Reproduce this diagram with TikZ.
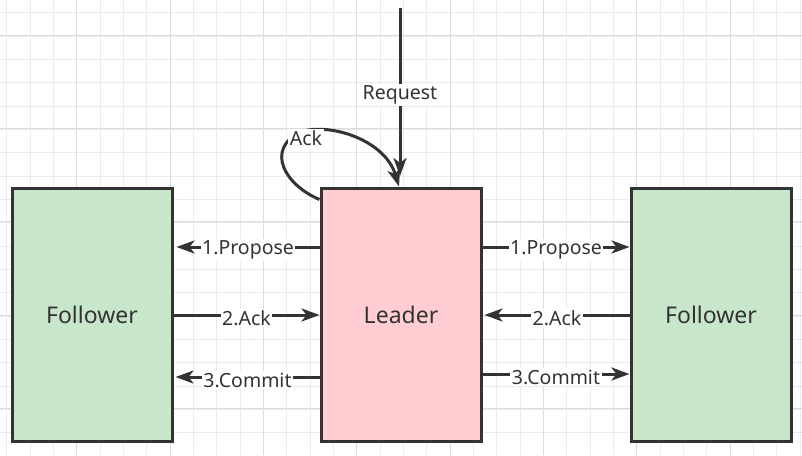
\documentclass[tikz,border=0pt]{standalone}
\usepackage{fontspec}
\setmainfont{Noto Sans}
\usetikzlibrary{arrows.meta}
\definecolor{gmin}{HTML}{EBEBEB}
\definecolor{gmaj}{HTML}{DCDCDC}
\definecolor{fgreen}{HTML}{C8E6C9}
\definecolor{lpink}{HTML}{FFCDD2}
\definecolor{ink}{HTML}{333333}
\tikzset{
  box/.style={draw=ink, line width=3pt, minimum width=160pt, minimum height=253pt,
    text=ink, font=\fontsize{23}{27}\selectfont, inner sep=0pt},
  arr/.style={draw=ink, line width=3pt, -{Stealth[length=18pt,width=13pt,inset=5pt]}},
  lbl/.style={fill=white, text=ink, font=\fontsize{19.5}{23}\selectfont, inner sep=1.5pt, yshift=-3pt}
}
\begin{document}
\begin{tikzpicture}[x=1pt,y=-1pt]
\useasboundingbox (0,0) rectangle (802,455);
\fill[white] (0,0) rectangle (802,455);
\begin{scope}
\clip (0,0) rectangle (802,455);
\foreach \i in {0,...,34} \draw[gmin, line width=1pt] ({6.67+23.333*\i},0) -- ({6.67+23.333*\i},455);
\foreach \i in {0,...,19} \draw[gmin, line width=1pt] (0,{12.67+23.333*\i}) -- (802,{12.67+23.333*\i});
\foreach \i in {0,...,8} \draw[gmaj, line width=1pt] ({76.67+93.333*\i},0) -- ({76.67+93.333*\i},455);
\foreach \i in {0,...,4} \draw[gmaj, line width=1pt] (0,{35+93.333*\i}) -- (802,{35+93.333*\i});
\end{scope}

\node[box, fill=fgreen] (fl) at (92,314.5) {Follower};
\node[box, fill=lpink] (ld) at (401,314.5) {Leader};
\node[box, fill=fgreen] (fr) at (711,314.5) {Follower};

% request
\coordinate (rq) at (400,8);
\coordinate (rqend) at (400,176);
\draw[arr] (rq) -- node[lbl, pos=0.5] {Request} (rqend);

% self ack
\draw[arr] ([yshift=-13pt]ld.north west) .. controls (285,185) and (265,150) .. (300,132)
  .. controls (330,122) and (385,140) .. ([xshift=-2pt]ld.north);
\node[lbl] (ackl) at (306,135) {Ack};

% left side
\draw[arr] (ld.west |- 0,247) -- node[lbl] {1.Propose} ([xshift=3pt]fl.east |- 0,247);
\draw[arr] (fl.east |- 0,315) -- node[lbl] {2.Ack} (ld.west |- 0,315);
\draw[arr] (ld.west |- 0,377) -- node[lbl] {3.Commit} ([xshift=2pt]fl.east |- 0,377);

% right side
\draw[arr] (ld.east |- 0,247) -- node[lbl] {1.Propose} (fr.west |- 0,247);
\draw[arr] (fr.west |- 0,315) -- node[lbl] {2.Ack} ([xshift=2pt]ld.east |- 0,315);
\draw[arr] (ld.east |- 0,374) -- node[lbl] {3.Commit} (fr.west |- 0,374);
\end{tikzpicture}
\end{document}
